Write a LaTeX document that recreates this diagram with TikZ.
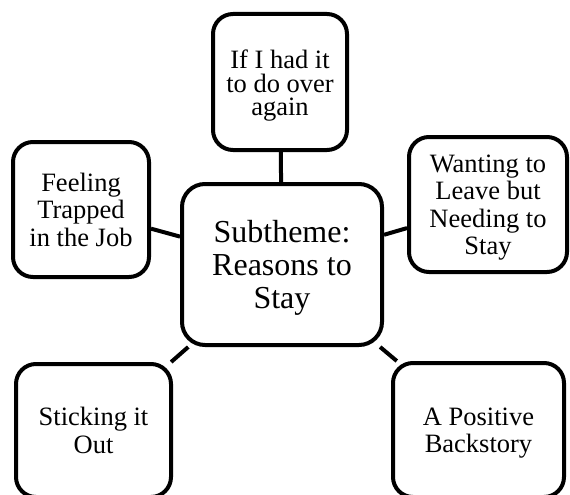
\documentclass[tikz,border=0pt]{standalone}
\usepackage{fontspec}
\setmainfont{Liberation Serif}
\begin{document}
\begin{tikzpicture}[x=1pt,y=-1pt,
  box/.style={draw, line width=4pt, rounded corners=20pt, inner sep=0pt},
  hubbox/.style={box, rounded corners=23pt},
  txt/.style={inner sep=0pt, align=center, font=\fontsize{26.5}{27.5}\selectfont},
  hubtxt/.style={txt, font=\fontsize{32}{33}\selectfont},
  link/.style={line width=4pt}]
\useasboundingbox (0,0) rectangle (570,495);

% central theme
\node[hubbox, minimum width=200pt, minimum height=161pt] (hub) at (282,264.5) {};
\node[hubtxt] (hub-t) at ([yshift=-3pt]hub.center) {Subtheme:\\Reasons to\\Stay};

% surrounding subthemes
\node[box, minimum width=134pt, minimum height=136pt] (again) at (280,82) {};
\node[txt, font=\fontsize{26.5}{23.5}\selectfont] (again-t) at ([yshift=-4pt]again.center)
  {If I had it\\to do over\\again};

\node[box, minimum width=136pt, minimum height=135pt] (trapped) at (81,209.5) {};
\node[txt] (trapped-t) at (trapped.center) {Feeling\\Trapped\\in the Job};

\node[box, minimum width=158pt, minimum height=135pt] (leave) at (488,204.5) {};
\node[txt] (leave-t) at ([yshift=-3pt]leave.center) {Wanting to\\Leave but\\Needing to\\Stay};

\node[box, minimum width=155pt, minimum height=133pt] (stick) at (93.5,430.5) {};
\node[txt] (stick-t) at (stick.center) {Sticking it\\Out};

\node[box, minimum width=171pt, minimum height=134pt] (backstory) at (478.5,430) {};
\node[txt] (backstory-t) at ([yshift=-3pt]backstory.center) {A Positive\\Backstory};

% connectors from the hub
\draw[link] (hub) -- (again);
\draw[link] (hub) -- (trapped);
\draw[link] (hub) -- (leave);
\draw[link] (hub) -- (stick);
\draw[link] (hub) -- (backstory);
\end{tikzpicture}
\end{document}
